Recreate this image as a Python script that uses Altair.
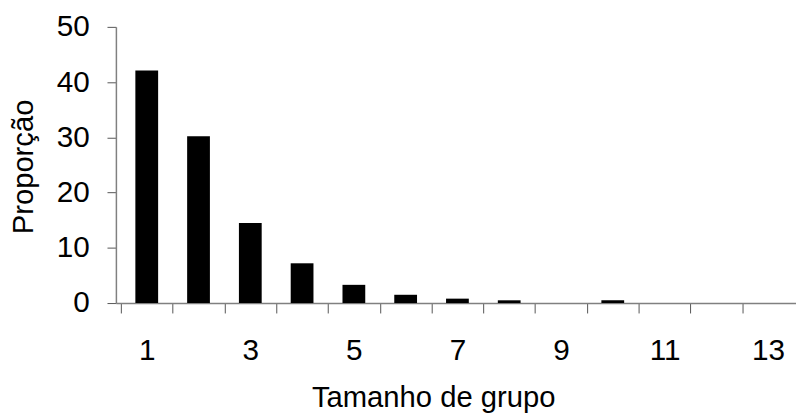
import altair as alt
import pandas as pd

group_size = [1, 2, 3, 4, 5, 6, 7, 8, 9, 10, 11, 12, 13]
proportion = [42.1, 30.2, 14.5, 7.2, 3.3, 1.5, 0.8, 0.5, 0.0, 0.5, 0.0, 0.0, 0.0]
x_tick_values = [v / 2 for v in range(1, 27)]  # 0.5 .. 13.0
y_tick_values = [0, 10, 20, 30, 40, 50]

df = pd.DataFrame({"size": group_size, "prop": proportion})

FONT = "Liberation Sans"
AXIS_GRAY = "#808080"

chart = (
    alt.Chart(df)
    .mark_bar(size=23, color="black")
    .encode(
        x=alt.X(
            "size:Q",
            scale=alt.Scale(domain=[0.5, 13.443], nice=False, zero=False),
            axis=alt.Axis(
                title="Tamanho de grupo",
                values=x_tick_values,
                labelExpr="datum.value % 2 == 1 ? ('' + datum.value) : ''",
                tickOpacity={"condition": {"test": "datum.value % 1 == 0", "value": 0}, "value": 1},
                tickSize=10,
                tickColor="#555555",
                domainColor=AXIS_GRAY,
                domainWidth=1.5,
                labelPadding=23,
                labelFontSize=30,
                labelFont=FONT,
                labelColor="black",
                labelFlush=False,
                labelOverlap=False,
                labelBound=False,
                grid=False,
                titleFont=FONT,
                titleFontSize=29.5,
                titleFontWeight="normal",
                titleColor="black",
                titleX=320.5,
                titleY=104,
                titleAlign="center",
                titleBaseline="alphabetic",
                titleAnchor="start",
            ),
        ),
        y=alt.Y(
            "prop:Q",
            scale=alt.Scale(domain=[0, 50], nice=False),
            axis=alt.Axis(
                title="Proporção",
                values=y_tick_values,
                tickSize=9,
                tickColor="#555555",
                domainColor=AXIS_GRAY,
                domainWidth=1.5,
                labelPadding=18,
                labelFontSize=30,
                labelFont=FONT,
                labelColor="black",
                grid=False,
                titleFont=FONT,
                titleFontSize=29.5,
                titleFontWeight="normal",
                titleColor="black",
                titleX=-84,
                titleY=141,
                titleAlign="center",
                titleBaseline="alphabetic",
                titleAnchor="start",
            ),
        ),
    )
    .properties(
        width=687,
        height=279,
        autosize=alt.AutoSizeParams(type="none"),
        padding={"left": 109, "top": 17, "right": 0, "bottom": 110},
        background="white",
    )
    .configure_view(stroke=None)
)

chart.save("out.html", embed_options={"renderer": "svg", "actions": False})
